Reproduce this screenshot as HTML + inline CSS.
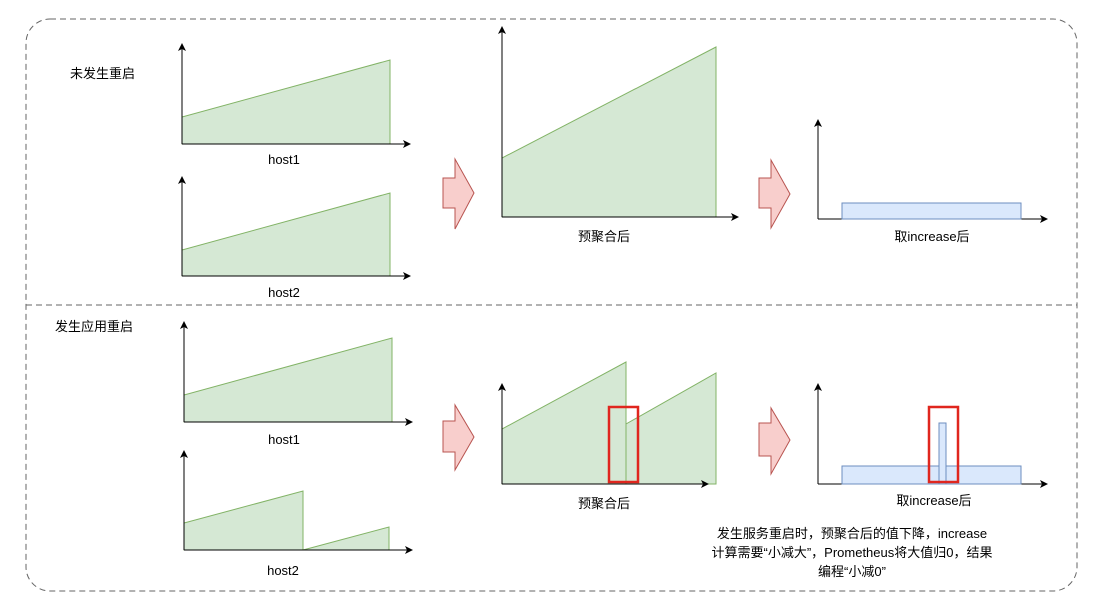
<!DOCTYPE html>
<html><head><meta charset="utf-8"><style>
html,body{margin:0;padding:0;background:#fff;}
svg text{font-family:"Liberation Sans","Noto Sans CJK SC",sans-serif;font-size:13px;fill:#000;}
</style></head><body>
<svg width="1098" height="611" viewBox="0 0 1098 611" xmlns="http://www.w3.org/2000/svg">
<defs><marker id="a" markerWidth="8" markerHeight="8" refX="7" refY="4" orient="auto" markerUnits="userSpaceOnUse"><path d="M0,0 L8,4 L0,8 L2,4 Z" fill="#000"/></marker></defs>
<rect x="26" y="19" width="1051" height="572" rx="24" fill="none" stroke="#666" stroke-dasharray="6,4" stroke-width="1"/>
<line x1="26" y1="305" x2="1077" y2="305" stroke="#666" stroke-dasharray="6,4"/>
<g fill="#d5e8d4" stroke="#82b366" stroke-width="1">
<!-- top host1 -->
<polygon points="182,144 182,117 390,60 390,144"/>
<polygon points="182,276 182,250 390,193 390,276"/>
<polygon points="502,217 502,158 716,47 716,217"/>
<!-- bottom -->
<polygon points="184,422 184,395 392,338 392,422"/>
<polygon points="184,550 184,523 303,491 303,550"/>
<polygon points="303,550 389,527 389,550"/>
<polygon points="502,484 502,429 626,362 626,484"/>
<polygon points="626,484 626,424 716,373 716,484"/>
</g>
<g stroke="#000" stroke-width="1" fill="none" marker-end="url(#a)">
<line x1="182" y1="144" x2="182" y2="44"/><line x1="182" y1="144" x2="410" y2="144"/>
<line x1="182" y1="276" x2="182" y2="177"/><line x1="182" y1="276" x2="410" y2="276"/>
<line x1="502" y1="217" x2="502" y2="27"/><line x1="502" y1="217" x2="738" y2="217"/>
<line x1="818" y1="219" x2="818" y2="120"/><line x1="818" y1="219" x2="1047" y2="219"/>
<line x1="184" y1="422" x2="184" y2="322"/><line x1="184" y1="422" x2="412" y2="422"/>
<line x1="184" y1="550" x2="184" y2="451"/><line x1="184" y1="550" x2="412" y2="550"/>
<line x1="502" y1="484" x2="502" y2="384"/><line x1="502" y1="484" x2="708" y2="484"/>
<line x1="818" y1="484" x2="818" y2="384"/><line x1="818" y1="484" x2="1047" y2="484"/>
</g>
<g fill="#dae8fc" stroke="#6c8ebf">
<rect x="842" y="203" width="179" height="16"/>
<rect x="842" y="466" width="179" height="18"/>
<rect x="939" y="423" width="7" height="61"/>
</g>
<g fill="#f8cecc" stroke="#b85450">
<polygon points="443,178 455,178 455,159 474,193 455,229 455,208 443,208"/>
<polygon points="759,178 771,178 771,160 790,194 771,228 771,208 759,208"/>
<polygon points="443,421 455,421 455,405 474,437 455,470 455,452 443,452"/>
<polygon points="759,423 771,423 771,408 790,440 771,474 771,456 759,456"/>
</g>
<g fill="none" stroke="#e0261e" stroke-width="2.5">
<rect x="609" y="407" width="29" height="75"/>
<rect x="929" y="407" width="29" height="75"/>
</g>
<text x="70" y="78">未发生重启</text>
<text x="55" y="331">发生应用重启</text>
<text x="284" y="164" text-anchor="middle">host1</text>
<text x="284" y="297" text-anchor="middle">host2</text>
<text x="604" y="241" text-anchor="middle">预聚合后</text>
<text x="932" y="241" text-anchor="middle">取increase后</text>
<text x="284" y="444" text-anchor="middle">host1</text>
<text x="283" y="575" text-anchor="middle">host2</text>
<text x="604" y="508" text-anchor="middle">预聚合后</text>
<text x="934" y="505" text-anchor="middle">取increase后</text>
<text x="852" y="538" text-anchor="middle">发生服务重启时，预聚合后的值下降，increase</text>
<text x="852" y="557" text-anchor="middle">计算需要“小减大”，Prometheus将大值归0，结果</text>
<text x="852" y="576" text-anchor="middle">编程“小减0”</text>
</svg>
</body></html>
